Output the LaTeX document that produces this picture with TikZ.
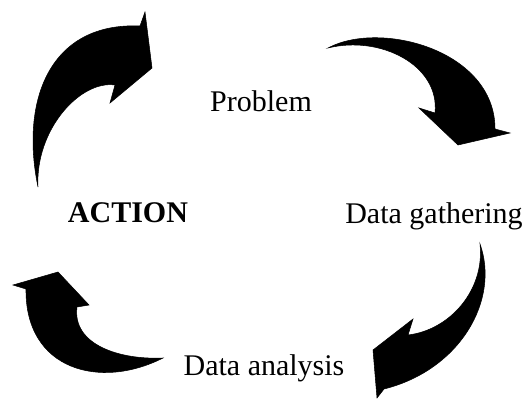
\documentclass[tikz,border=0pt]{standalone}
\usepackage{fontspec}
\setmainfont{Liberation Serif}
\usepackage{tikz}

\begin{document}
\begin{tikzpicture}[x=0.75pt,y=0.75pt,yscale=-1,xscale=1,
  bentarrow/.style={draw=black,fill=black,line join=miter},
  label/.style={anchor=base,inner sep=0.75pt,font=\fontsize{22.5}{27}\selectfont}]
\useasboundingbox (0,0) rectangle (527,399);

%Shape: Curved Arrow [id:action to problem]
\draw [bentarrow] (38,187) .. controls (20,100) and (50,22) .. (140,26) -- (145,12) -- (152,68) -- (110,103) -- (115,85) .. controls (80,80) and (35,130) .. (38,187) -- cycle ;
%Shape: Curved Arrow [id:problem to gathering]
\draw [bentarrow] (328,48) .. controls (380,20) and (495,50) .. (495,129) -- (510,133) -- (458,145) -- (419,108) -- (435,113) .. controls (440,65) and (380,35) .. (328,48) -- cycle ;
%Shape: Curved Arrow [id:gathering to analysis]
\draw [bentarrow] (480,244) .. controls (500,300) and (460,370) .. (384,389) -- (377,398) -- (373,350) -- (413,319) -- (408,335) .. controls (450,330) and (485,290) .. (480,244) -- cycle ;
%Shape: Curved Arrow [id:analysis to action]
\draw [bentarrow] (163,358) .. controls (100,390) and (25,370) .. (26,289) -- (13,285) -- (58,272) -- (89,305) -- (77,307) .. controls (72,345) and (120,360) .. (163,358) -- cycle ;

% Text Node
\node [label] (problem) at (261,112) {Problem};
% Text Node
\node [label,font=\fontsize{22.5}{27}\selectfont\bfseries] (action) at (128,222) {ACTION};
% Text Node
\node [label] (gathering) at (434,223) {Data gathering};
% Text Node
\node [label] (analysis) at (264,375) {Data analysis};
\end{tikzpicture}
\end{document}
